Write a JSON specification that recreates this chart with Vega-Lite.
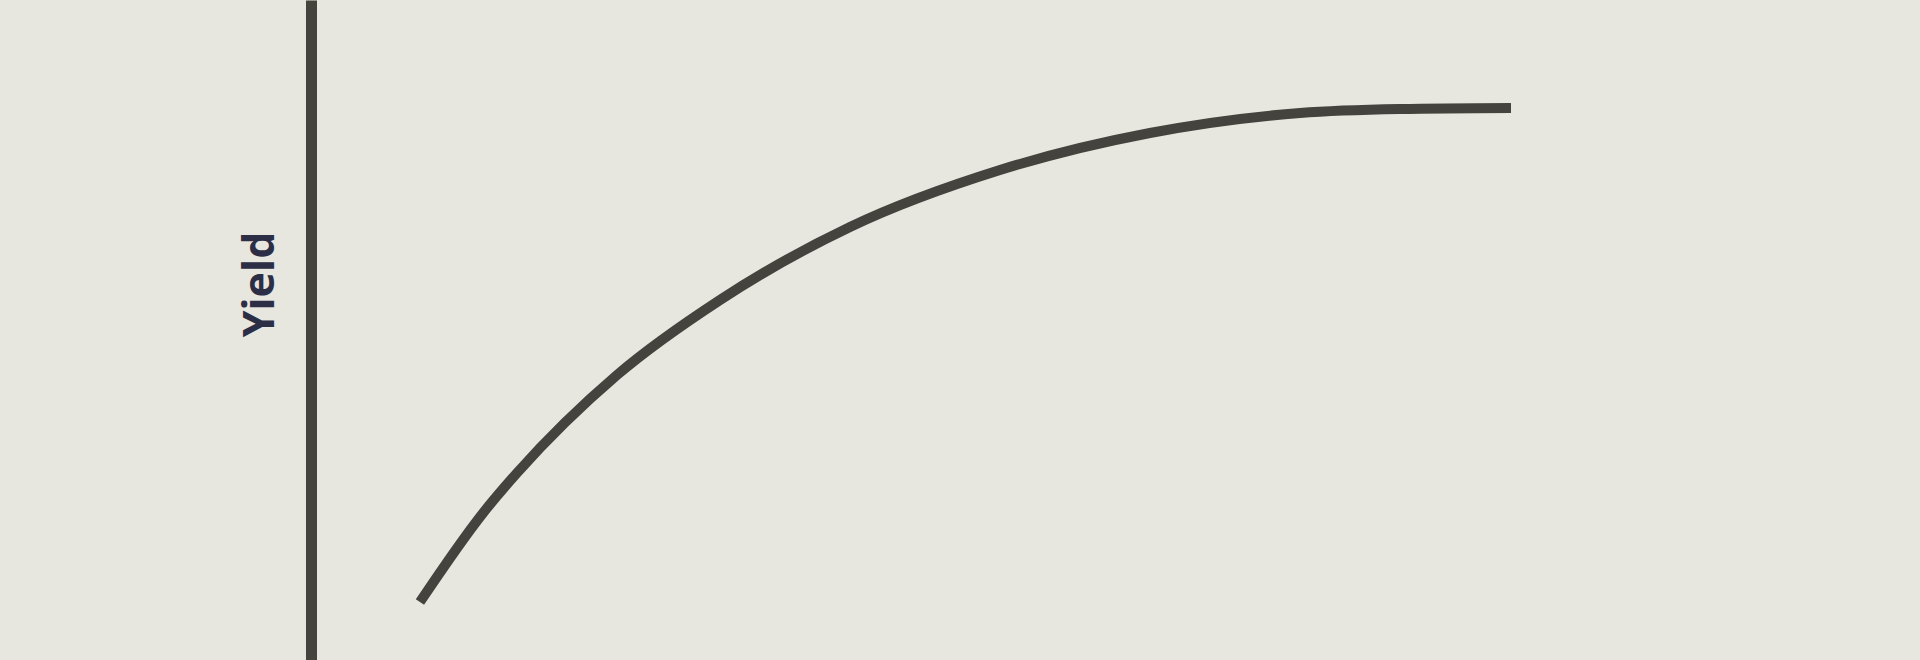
{
  "$schema": "https://vega.github.io/schema/vega-lite/v6.json",
  "width": 1609,
  "height": 660,
  "autosize": {"type": "none"},
  "padding": {"left": 311, "top": 0, "right": 0, "bottom": 0},
  "background": "#e7e6df",
  "config": {"view": {"stroke": null}},
  "data": {
    "values": [
      {"input": 6.77, "yield": 8.79},
      {"input": 10.69, "yield": 22.27},
      {"input": 12.8, "yield": 28.33},
      {"input": 19.02, "yield": 43.18},
      {"input": 25.42, "yield": 54.55},
      {"input": 33.5, "yield": 65.61},
      {"input": 42.82, "yield": 74.24},
      {"input": 52.14, "yield": 79.85},
      {"input": 61.47, "yield": 82.88},
      {"input": 67.68, "yield": 83.48},
      {"input": 74.58, "yield": 83.64}
    ]
  },
  "mark": {
    "type": "line",
    "interpolate": "monotone",
    "strokeWidth": 10,
    "strokeCap": "butt",
    "color": "#45433d"
  },
  "encoding": {
    "x": {
      "field": "input",
      "type": "quantitative",
      "scale": {"domain": [0, 100]},
      "axis": null
    },
    "y": {
      "field": "yield",
      "type": "quantitative",
      "scale": {"domain": [0, 100]},
      "axis": {
        "title": "Yield",
        "labels": false,
        "ticks": false,
        "grid": false,
        "domainColor": "#45433d",
        "domainWidth": 11,
        "titleFont": "Open Sans",
        "titleFontSize": 43,
        "titleFontWeight": "bold",
        "titleColor": "#2c2e45",
        "titlePadding": 29,
        "titleY": 284
      }
    }
  }
}
